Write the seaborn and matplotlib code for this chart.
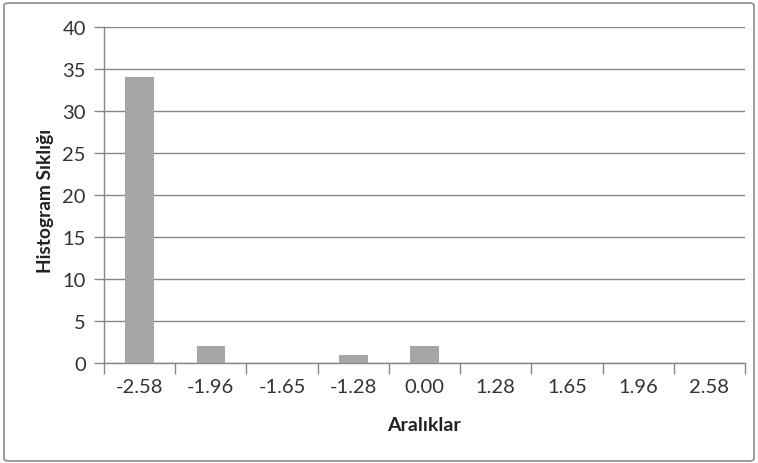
import matplotlib
matplotlib.use("Agg")
import matplotlib.pyplot as plt
from matplotlib.patches import FancyBboxPatch
from matplotlib.ticker import FixedLocator
import seaborn as sns
import pandas as pd
import numpy as np

# Histogram data
categories = ["-2.58", "-1.96", "-1.65", "-1.28", "0.00", "1.28", "1.65", "1.96", "2.58"]
frequencies = [34, 2, 0, 1, 2, 0, 0, 0, 0]
y_ticks = [0, 5, 10, 15, 20, 25, 30, 35, 40]

sns.set_theme(style="white")
plt.rcParams["font.family"] = ["Lato", "DejaVu Sans"]

df = pd.DataFrame({"Aralıklar": categories, "Sıklık": frequencies})

fig = plt.figure(figsize=(7.58, 4.64), dpi=100)
ax = fig.add_axes([104 / 758, 1 - 364 / 464, (745 - 104) / 758, (364 - 28) / 464])

grid_col = "#868686"
bar_col = "#A6A6A6"

sns.barplot(data=df, x="Aralıklar", y="Sıklık", color=bar_col, width=0.4,
            saturation=1, linewidth=0, ax=ax, zorder=3)

ax.set_ylim(0, 40)
ax.set_xlim(-0.5, len(categories) - 0.5)
ax.set_yticks(y_ticks)
ax.set_yticklabels([str(v) for v in y_ticks], fontsize=14.5, color="#333333")
ax.yaxis.grid(True, color=grid_col, linewidth=1, zorder=0)
ax.tick_params(axis="y", length=7, width=1, color=grid_col, pad=6, left=True)

# category labels centered, boundary tick marks below the axis
ax.tick_params(axis="x", which="major", length=0, pad=11, labelsize=14.5, labelcolor="#333333")
ax.xaxis.set_minor_locator(FixedLocator(np.arange(-0.5, len(categories), 1.0)))
ax.tick_params(axis="x", which="minor", length=8, width=1, color=grid_col, bottom=True)

for side in ["top", "right"]:
    ax.spines[side].set_visible(False)
for side in ["left", "bottom"]:
    ax.spines[side].set_color(grid_col)
    ax.spines[side].set_linewidth(1)

ax.set_xlabel("Aralıklar", fontsize=14, fontweight="bold", color="#222222")
ax.set_ylabel("Histogram Sıklığı", fontsize=13.8, fontweight="bold", color="#222222")
ax.xaxis.label.set_va("center")
ax.yaxis.label.set_va("center")
ax.xaxis.set_label_coords(0.499, -0.182)
ax.yaxis.set_label_coords(-0.0905, 0.485)

# chart area frame
frame = FancyBboxPatch((4 / 758, 2 / 464), 750 / 758, 458 / 464,
                       boxstyle="round,pad=0,rounding_size=0.006",
                       transform=fig.transFigure, fill=False,
                       edgecolor="#8C8C8C", linewidth=1.2)
fig.patches.append(frame)

fig.savefig("out.png", dpi=100)
